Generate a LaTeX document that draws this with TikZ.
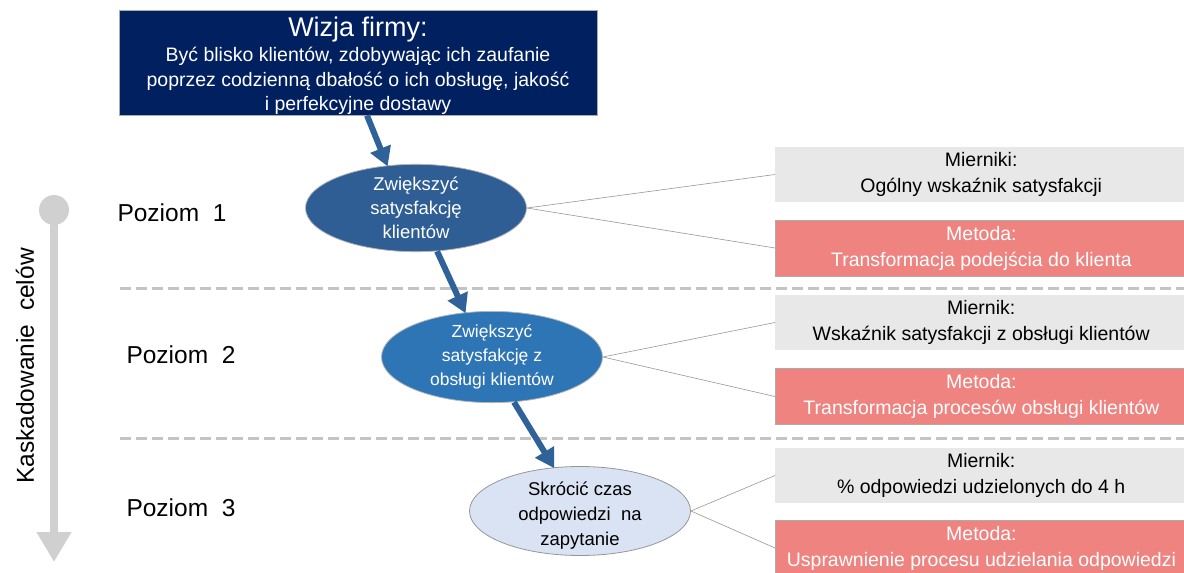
\documentclass[tikz,border=0pt]{standalone}
\usepackage{fontspec}
\setmainfont{Liberation Sans}
\usetikzlibrary{arrows.meta,shapes.geometric}

\definecolor{visionblue}{RGB}{0,32,96}
\definecolor{goalone}{RGB}{47,94,148}
\definecolor{goaltwo}{RGB}{46,117,182}
\definecolor{goalthree}{RGB}{218,227,243}
\definecolor{flowblue}{RGB}{47,98,152}
\definecolor{measuregray}{RGB}{232,232,232}
\definecolor{methodred}{RGB}{239,131,128}
\definecolor{rulegray}{RGB}{196,196,196}
\definecolor{cascadegray}{RGB}{208,208,208}
\definecolor{edgegray}{RGB}{150,150,150}

\tikzset{
  goal/.style={ellipse, minimum width=221pt, minimum height=87pt, inner sep=0pt,
    draw=edgegray!70, line width=0.8pt, align=center},
  measurebox/.style={rectangle, anchor=west, minimum width=412pt, minimum height=55pt,
    fill=measuregray, inner sep=0pt, align=center, font=\fontsize{19.5}{26}\selectfont},
  methodbox/.style={rectangle, anchor=west, minimum width=412pt, minimum height=56pt,
    fill=methodred, draw=edgegray!80, line width=0.8pt, text=white, inner sep=0pt,
    align=center, font=\fontsize{19.5}{26}\selectfont},
  levellabel/.style={anchor=west, font=\fontsize{24.5}{28}\selectfont},
  flow/.style={draw=flowblue, line width=6pt,
    -{Triangle[width=21pt,length=19pt]}, shorten >=-1pt},
  spoke/.style={draw=edgegray, line width=0.6pt},
  levelrule/.style={draw=rulegray, line width=3pt, dash pattern=on 11pt off 5pt}
}

\begin{document}
\begin{tikzpicture}[x=1pt,y=-1pt]
\useasboundingbox (0,0) rectangle (1184,573);

% level separators
\draw[levelrule] (120,288) -- (1184,288);
\draw[levelrule] (120,438) -- (1184,438);

% cascade indicator on the left
\fill[cascadegray] (54,210) circle (15pt);
\draw[cascadegray, line width=8pt, -{Triangle[width=33pt,length=30pt]}] (54,210) -- (54,562);
\node[rotate=90, font=\fontsize{24.5}{28}\selectfont] (cascade) at (25,366) {Kaskadowanie\ \ celów};

% company vision
\node[rectangle, fill=visionblue, draw=edgegray!80, line width=0.8pt,
      minimum width=478pt, minimum height=105pt, inner sep=0pt] (vision) at (358,62.5) {};
\node[text=white, align=center, inner sep=0pt, font=\fontsize{19.5}{24.5}\selectfont]
  (visiontext) at ([yshift=-3pt]vision.center)
  {{\fontsize{27}{24}\selectfont Wizja firmy:}\\[1pt]
   Być blisko klientów, zdobywając ich zaufanie\\
   poprzez codzienną dbałość o ich obsługę, jakość\\
   i perfekcyjne dostawy};

% goals per level
\node[goal, fill=goalone, text=white, font=\fontsize{18.5}{24}\selectfont] (g1) at (416,208)
  {Zwiększyć\\satysfakcję\\klientów};
\node[goal, fill=goaltwo, text=white, font=\fontsize{17.5}{24}\selectfont] (g2) at (492,357)
  {Zwiększyć\\satysfakcję z\\obsługi klientów};
\node[goal, fill=goalthree, draw=edgegray, minimum height=89pt] (g3) at (580,511) {};
\node[text=black, align=center, inner sep=0pt, font=\fontsize{18.5}{25}\selectfont]
  (g3text) at ([yshift=-5pt]g3.center)
  {Skrócić czas\\odpowiedzi\ \ na\\zapytanie};

% level labels
\node[levellabel] (l1) at (114,213) {Poziom\ \ 1};
\node[levellabel] (l2) at (123,355) {Poziom\ \ 2};
\node[levellabel] (l3) at (123,508) {Poziom\ \ 3};

% measures and methods
\node[measurebox] (m1) at (775,174.5) {Mierniki:\\Ogólny wskaźnik satysfakcji};
\node[methodbox]  (t1) at (775,248)   {Metoda:\\Transformacja podejścia do klienta};
\node[measurebox] (m2) at (775,322.5) {Miernik:\\Wskaźnik satysfakcji z obsługi klientów};
\node[methodbox]  (t2) at (775,396.5) {Metoda:\\Transformacja procesów obsługi klientów};
\node[measurebox] (m3) at (775,475.5) {Miernik:\\\% odpowiedzi udzielonych do 4 h};
\node[methodbox]  (t3) at (775,548)   {Metoda:\\Usprawnienie procesu udzielania odpowiedzi};

% spokes from goals to their boxes
\draw[spoke] (g1.east) -- (m1.west);
\draw[spoke] (g1.east) -- (t1.west);
\draw[spoke] (g2.east) -- (m2.west);
\draw[spoke] (g2.east) -- (t2.west);
\draw[spoke] (g3.east) -- (m3.west);
\draw[spoke] (g3.east) -- (t3.west);

% cascade arrows
\draw[flow] ([xshift=9pt]vision.south) -- (g1.124);
\draw[flow] (g1.-64) -- (g2.121);
\draw[flow] (g2.-64) -- (g3.121);
\end{tikzpicture}
\end{document}
